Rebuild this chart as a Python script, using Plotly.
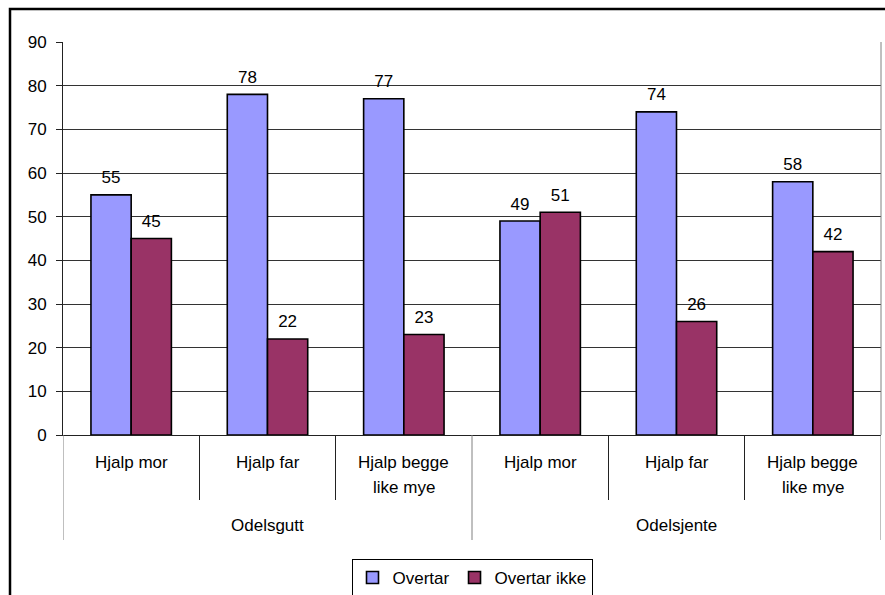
import plotly.graph_objects as go

groups = ["Odelsgutt", "Odelsjente"]
subcats = ["Hjalp mor", "Hjalp far", "Hjalp begge<br>like mye"]
overtar = [55, 78, 77, 49, 74, 58]
overtar_ikke = [45, 22, 23, 51, 26, 42]
yticks = list(range(0, 100, 10))

W, H = 885, 595
L, R, T, B = 63, 4, 42, 160
pw, ph = W - L - R, H - T - B
font = "Liberation Sans, Arial, sans-serif"
FS = 17

def px(x):
    return (x - L) / pw
def py(y):
    return 1 - (y - T) / ph

n = len(groups) * len(subcats)
xs = list(range(n))

fig = go.Figure()
for name, vals, col, og in [("Overtar", overtar, "#9999FF", "a"),
                            ("Overtar ikke", overtar_ikke, "#993366", "b")]:
    fig.add_trace(go.Bar(x=xs, y=vals, name=name, marker_color=col,
                         marker_line=dict(color="black", width=1.6), offsetgroup=og))
for vals, og in [(overtar, "a"), (overtar_ikke, "b")]:
    fig.add_trace(go.Scatter(x=xs, y=vals, mode="markers+text", text=[str(v) for v in vals],
                             textposition="top center", offsetgroup=og, showlegend=False,
                             marker=dict(size=10, opacity=0), hoverinfo="skip",
                             textfont=dict(size=FS, color="black", family=font), cliponaxis=False))

# category labels
for gi, g in enumerate(groups):
    for si, s in enumerate(subcats):
        i = gi * len(subcats) + si
        for li, line in enumerate(s.split("<br>")):
            fig.add_annotation(x=i, y=py(462 + 25 * li), xref="x", yref="paper", text=line,
                               showarrow=False, yanchor="middle", xanchor="center",
                               font=dict(size=FS, color="black", family=font))
    mid = gi * len(subcats) + (len(subcats) - 1) / 2
    fig.add_annotation(x=mid, y=py(525), xref="x", yref="paper", text=g, showarrow=False,
                       yanchor="middle", xanchor="center", font=dict(size=FS, color="black", family=font))
# group separators
for b in range(0, n + 1, len(subcats)):
    fig.add_shape(type="line", xref="x", yref="paper", x0=b - 0.5, x1=b - 0.5, y0=0, y1=py(540),
                  line=dict(color="#808080", width=1))

# outer chart border
fig.add_shape(type="rect", xref="paper", yref="paper", x0=px(10), x1=px(900), y0=py(9), y1=py(610),
              line=dict(color="black", width=2.5), layer="below")
# plot area right border
fig.add_shape(type="line", xref="paper", yref="paper", x0=1, x1=1, y0=0, y1=1,
              line=dict(color="#808080", width=1))

inner_bounds = [b + 0.5 for b in range(n - 1) if (b + 1) % len(subcats) != 0]

fig.update_layout(
    width=W, height=H, margin=dict(l=L, r=R, t=T, b=B, autoexpand=False),
    paper_bgcolor="white", plot_bgcolor="white",
    barmode="group", bargap=0.41, bargroupgap=0, scattermode="group", scattergap=0.41,
    font=dict(family=font, size=FS, color="black"),
    showlegend=True,
    legend=dict(orientation="h", x=0.5, xanchor="center", y=py(559), yanchor="top",
                bordercolor="black", borderwidth=1, font=dict(size=FS), itemwidth=30,
                tracegroupgap=0),
    xaxis=dict(range=[-0.5, n - 0.5], showline=True, linecolor="#222", linewidth=1,
               showgrid=False, zeroline=False, tickvals=inner_bounds, showticklabels=False,
               ticks="outside", ticklen=64, tickcolor="#222", automargin=False),
    yaxis=dict(range=[0, 90], tickvals=yticks, showgrid=True, gridcolor="#333", gridwidth=1,
               showline=True, linecolor="#222", linewidth=1,
               ticks="outside", ticklen=6, tickcolor="#222", zeroline=False,
               ticklabelstandoff=6, automargin=False, tickfont=dict(size=FS)),
)
fig.write_html("out.html", config={"displayModeBar": False},
               post_script="document.body.style.margin='0';document.body.style.overflow='hidden';"
                           "document.documentElement.style.overflow='hidden';")
